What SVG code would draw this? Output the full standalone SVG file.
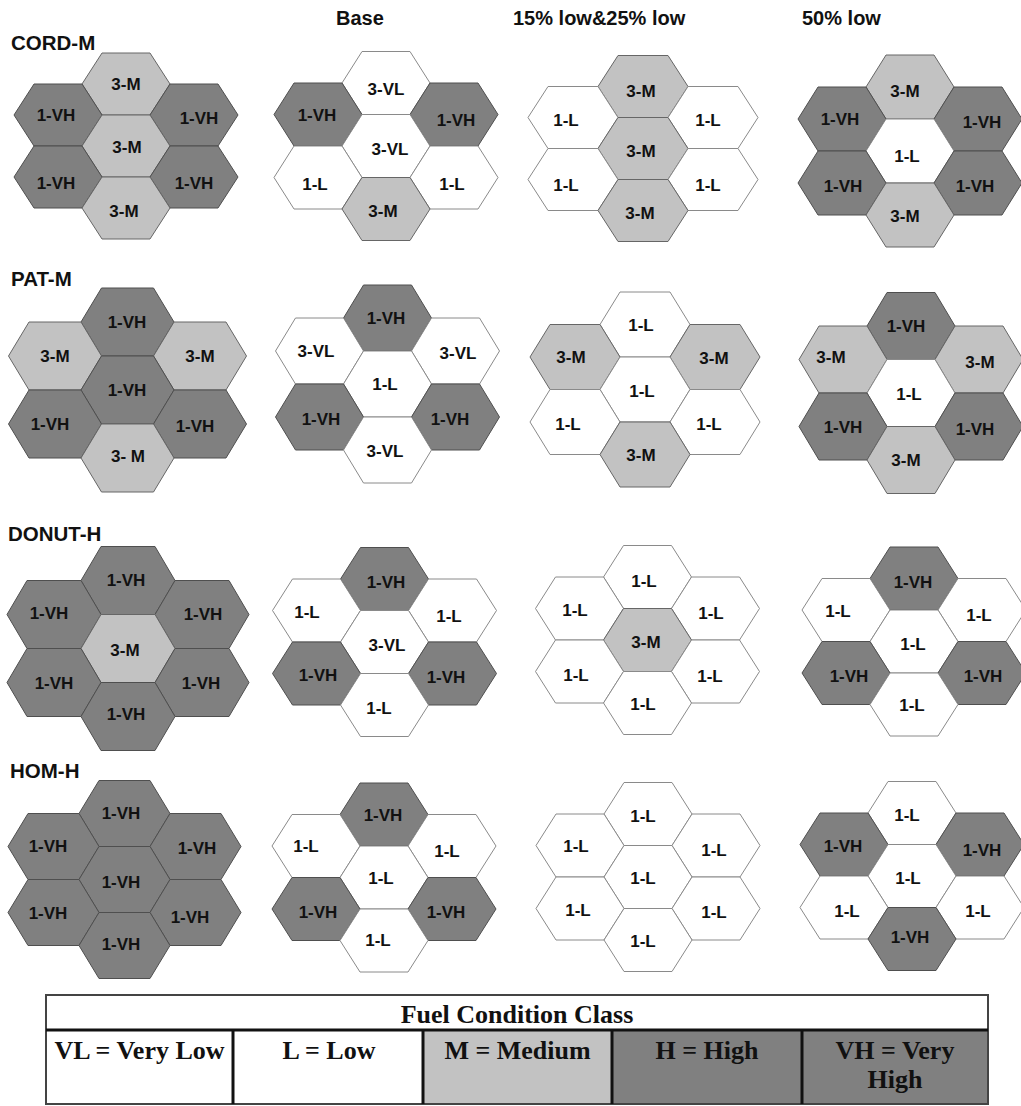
<svg xmlns="http://www.w3.org/2000/svg" xmlns:xlink="http://www.w3.org/1999/xlink" width="1021" height="1106" viewBox="0 0 1021 1106">
<style>
.vh{fill:#808080;stroke:#4f4f4f;stroke-width:1}
.m{fill:#c2c2c2;stroke:#666;stroke-width:1}
.l{fill:#fff;stroke:#8a8a8a;stroke-width:1}
.lbl{font-family:"Liberation Sans",Arial,sans-serif;font-weight:bold;font-size:17px;fill:#111;text-anchor:middle}
.hdr{font-family:"Liberation Sans",Arial,sans-serif;font-weight:bold;font-size:20px;fill:#111}
.ttl{font-family:"Liberation Sans",Arial,sans-serif;font-weight:bold;font-size:20.5px;fill:#111}
.leg{font-family:"Liberation Serif","Times New Roman",serif;font-weight:bold;font-size:26px;fill:#111;text-anchor:middle}
.div{stroke:#111;stroke-width:3}
</style>
<defs>
<polygon id="hA" points="-44,0 -24,-31 24,-31 44,0 24,31 -24,31"/>
<polygon id="hB" points="-44,0 -24,-31.5 24,-31.5 44,0 24,31.5 -24,31.5"/>
<polygon id="hC" points="-45,0 -25,-31 25,-31 45,0 25,31 -25,31"/>
<polygon id="hD" points="-44,0 -24,-32 24,-32 44,0 24,32 -24,32"/>
<polygon id="hE" points="-46.5,0 -26,-34 26,-34 46.5,0 26,34 -26,34"/>
<polygon id="hF" points="-44,0 -24,-33 24,-33 44,0 24,33 -24,33"/>
<polygon id="hG" points="-45,0 -25,-32.5 25,-32.5 45,0 25,32.5 -25,32.5"/>
<polygon id="hH" points="-44,0 -24,-33.5 24,-33.5 44,0 24,33.5 -24,33.5"/>
<polygon id="hI" points="-47,0 -27,-34 27,-34 47,0 27,34 -27,34"/>
<polygon id="hJ" points="-45.5,0 -25.5,-33 25.5,-33 45.5,0 25.5,33 -25.5,33"/>
</defs>

<g id="headers">
<text class="hdr" x="336" y="25">Base</text>
<text class="hdr" x="513" y="25">15% low&amp;25% low</text>
<text class="hdr" x="802" y="25">50% low</text>
</g>
<g id="row-titles">
<text class="ttl" x="11" y="50">CORD-M</text>
<text class="ttl" x="11" y="286">PAT-M</text>
<text class="ttl" x="8" y="541">DONUT-H</text>
<text class="ttl" x="10" y="778">HOM-H</text>
</g>

<g id="connectors"/>

<!-- Row 1 CORD-M -->
<g id="cord-c1">
<g id="cord-c1-top"><use href="#hA" x="126" y="84" class="m"/><text class="lbl" x="126" y="90">3-M</text></g>
<g id="cord-c1-ul"><use href="#hA" x="58" y="115" class="vh"/><text class="lbl" x="56" y="121">1-VH</text></g>
<g id="cord-c1-ur"><use href="#hA" x="194" y="115" class="vh"/><text class="lbl" x="199" y="124">1-VH</text></g>
<g id="cord-c1-c"><use href="#hA" x="126" y="146" class="m"/><text class="lbl" x="127" y="153">3-M</text></g>
<g id="cord-c1-ll"><use href="#hA" x="58" y="177" class="vh"/><text class="lbl" x="56" y="189">1-VH</text></g>
<g id="cord-c1-lr"><use href="#hA" x="194" y="177" class="vh"/><text class="lbl" x="194" y="189">1-VH</text></g>
<g id="cord-c1-b"><use href="#hA" x="126" y="208" class="m"/><text class="lbl" x="124" y="217">3-M</text></g>
</g>
<g id="cord-c2">
<g id="cord-c2-top"><use href="#hB" x="386" y="83" class="l"/><text class="lbl" x="386" y="95">3-VL</text></g>
<g id="cord-c2-ul"><use href="#hB" x="318" y="114.5" class="vh"/><text class="lbl" x="317" y="121">1-VH</text></g>
<g id="cord-c2-ur"><use href="#hB" x="454" y="114.5" class="vh"/><text class="lbl" x="456" y="126">1-VH</text></g>
<g id="cord-c2-c"><use href="#hB" x="386" y="146" class="l"/><text class="lbl" x="390" y="155">3-VL</text></g>
<g id="cord-c2-ll"><use href="#hB" x="318" y="177.5" class="l"/><text class="lbl" x="315" y="190">1-L</text></g>
<g id="cord-c2-lr"><use href="#hB" x="454" y="177.5" class="l"/><text class="lbl" x="452" y="190">1-L</text></g>
<g id="cord-c2-b"><use href="#hB" x="386" y="209" class="m"/><text class="lbl" x="383" y="217">3-M</text></g>
</g>
<g id="cord-c3">
<g id="cord-c3-top"><use href="#hC" x="643" y="86.5" class="m"/><text class="lbl" x="641" y="97">3-M</text></g>
<g id="cord-c3-ul"><use href="#hC" x="573" y="117.5" class="l"/><text class="lbl" x="566" y="126">1-L</text></g>
<g id="cord-c3-ur"><use href="#hC" x="713" y="117.5" class="l"/><text class="lbl" x="708" y="126">1-L</text></g>
<g id="cord-c3-c"><use href="#hC" x="643" y="148.5" class="m"/><text class="lbl" x="641" y="157">3-M</text></g>
<g id="cord-c3-ll"><use href="#hC" x="573" y="179.5" class="l"/><text class="lbl" x="566" y="191">1-L</text></g>
<g id="cord-c3-lr"><use href="#hC" x="713" y="179.5" class="l"/><text class="lbl" x="708" y="191">1-L</text></g>
<g id="cord-c3-b"><use href="#hC" x="643" y="210.5" class="m"/><text class="lbl" x="640" y="219">3-M</text></g>
</g>
<g id="cord-c4">
<g id="cord-c4-top"><use href="#hD" x="910" y="87" class="m"/><text class="lbl" x="905" y="97">3-M</text></g>
<g id="cord-c4-ul"><use href="#hD" x="842" y="119" class="vh"/><text class="lbl" x="840" y="125">1-VH</text></g>
<g id="cord-c4-ur"><use href="#hD" x="978" y="119" class="vh"/><text class="lbl" x="982" y="128">1-VH</text></g>
<g id="cord-c4-c"><use href="#hD" x="910" y="151" class="l"/><text class="lbl" x="907" y="162">1-L</text></g>
<g id="cord-c4-ll"><use href="#hD" x="842" y="183" class="vh"/><text class="lbl" x="843" y="192">1-VH</text></g>
<g id="cord-c4-lr"><use href="#hD" x="978" y="183" class="vh"/><text class="lbl" x="975" y="192">1-VH</text></g>
<g id="cord-c4-b"><use href="#hD" x="910" y="215" class="m"/><text class="lbl" x="905" y="222">3-M</text></g>
</g>

<!-- Row 2 PAT-M -->
<g id="pat-c1">
<g id="pat-c1-top"><use href="#hE" x="127.5" y="322" class="vh"/><text class="lbl" x="127" y="328">1-VH</text></g>
<g id="pat-c1-ul"><use href="#hE" x="55" y="356" class="m"/><text class="lbl" x="55" y="362">3-M</text></g>
<g id="pat-c1-ur"><use href="#hE" x="200" y="356" class="m"/><text class="lbl" x="200" y="362">3-M</text></g>
<g id="pat-c1-c"><use href="#hE" x="127.5" y="390" class="vh"/><text class="lbl" x="127" y="396">1-VH</text></g>
<g id="pat-c1-ll"><use href="#hE" x="55" y="424" class="vh"/><text class="lbl" x="50" y="430">1-VH</text></g>
<g id="pat-c1-lr"><use href="#hE" x="200" y="424" class="vh"/><text class="lbl" x="195" y="432">1-VH</text></g>
<g id="pat-c1-b"><use href="#hE" x="127.5" y="458" class="m"/><text class="lbl" x="128" y="462">3- M</text></g>
</g>
<g id="pat-c2">
<g id="pat-c2-top"><use href="#hF" x="387.5" y="318" class="vh"/><text class="lbl" x="386" y="324">1-VH</text></g>
<g id="pat-c2-ul"><use href="#hF" x="319.5" y="351" class="l"/><text class="lbl" x="316" y="357">3-VL</text></g>
<g id="pat-c2-ur"><use href="#hF" x="455.5" y="351" class="l"/><text class="lbl" x="458" y="359">3-VL</text></g>
<g id="pat-c2-c"><use href="#hF" x="387.5" y="384" class="l"/><text class="lbl" x="385" y="390">1-L</text></g>
<g id="pat-c2-ll"><use href="#hF" x="319.5" y="417" class="vh"/><text class="lbl" x="321" y="425">1-VH</text></g>
<g id="pat-c2-lr"><use href="#hF" x="455.5" y="417" class="vh"/><text class="lbl" x="450" y="425">1-VH</text></g>
<g id="pat-c2-b"><use href="#hF" x="387.5" y="450" class="l"/><text class="lbl" x="385" y="457">3-VL</text></g>
</g>
<g id="pat-c3">
<g id="pat-c3-top"><use href="#hG" x="645" y="324.5" class="l"/><text class="lbl" x="641" y="331">1-L</text></g>
<g id="pat-c3-ul"><use href="#hG" x="575" y="357" class="m"/><text class="lbl" x="571" y="363">3-M</text></g>
<g id="pat-c3-ur"><use href="#hG" x="715" y="357" class="m"/><text class="lbl" x="714" y="364">3-M</text></g>
<g id="pat-c3-c"><use href="#hG" x="645" y="389.5" class="l"/><text class="lbl" x="642" y="397">1-L</text></g>
<g id="pat-c3-ll"><use href="#hG" x="575" y="422" class="l"/><text class="lbl" x="568" y="430">1-L</text></g>
<g id="pat-c3-lr"><use href="#hG" x="715" y="422" class="l"/><text class="lbl" x="709" y="430">1-L</text></g>
<g id="pat-c3-b"><use href="#hG" x="645" y="454.5" class="m"/><text class="lbl" x="641" y="461">3-M</text></g>
</g>
<g id="pat-c4">
<g id="pat-c4-top"><use href="#hH" x="911" y="326" class="vh"/><text class="lbl" x="906" y="332">1-VH</text></g>
<g id="pat-c4-ul"><use href="#hH" x="843" y="359.5" class="m"/><text class="lbl" x="831" y="363">3-M</text></g>
<g id="pat-c4-ur"><use href="#hH" x="979" y="359.5" class="m"/><text class="lbl" x="980" y="368">3-M</text></g>
<g id="pat-c4-c"><use href="#hH" x="911" y="393" class="l"/><text class="lbl" x="909" y="400">1-L</text></g>
<g id="pat-c4-ll"><use href="#hH" x="843" y="426.5" class="vh"/><text class="lbl" x="843" y="433">1-VH</text></g>
<g id="pat-c4-lr"><use href="#hH" x="979" y="426.5" class="vh"/><text class="lbl" x="975" y="435">1-VH</text></g>
<g id="pat-c4-b"><use href="#hH" x="911" y="460" class="m"/><text class="lbl" x="906" y="466">3-M</text></g>
</g>

<!-- Row 3 DONUT-H -->
<g id="donut-c1">
<g id="donut-c1-top"><use href="#hI" x="128" y="580.5" class="vh"/><text class="lbl" x="126" y="586">1-VH</text></g>
<g id="donut-c1-ul"><use href="#hI" x="54" y="614.5" class="vh"/><text class="lbl" x="49" y="619">1-VH</text></g>
<g id="donut-c1-ur"><use href="#hI" x="202" y="614.5" class="vh"/><text class="lbl" x="203" y="620">1-VH</text></g>
<g id="donut-c1-c"><use href="#hI" x="128" y="648.5" class="m"/><text class="lbl" x="125" y="656">3-M</text></g>
<g id="donut-c1-ll"><use href="#hI" x="54" y="682.5" class="vh"/><text class="lbl" x="54" y="689">1-VH</text></g>
<g id="donut-c1-lr"><use href="#hI" x="202" y="682.5" class="vh"/><text class="lbl" x="201" y="689">1-VH</text></g>
<g id="donut-c1-b"><use href="#hI" x="128" y="716.5" class="vh"/><text class="lbl" x="126" y="720">1-VH</text></g>
</g>
<g id="donut-c2">
<g id="donut-c2-top"><use href="#hB" x="384.5" y="579" class="vh"/><text class="lbl" x="386" y="588">1-VH</text></g>
<g id="donut-c2-ul"><use href="#hB" x="316.5" y="610.5" class="l"/><text class="lbl" x="307" y="618">1-L</text></g>
<g id="donut-c2-ur"><use href="#hB" x="452.5" y="610.5" class="l"/><text class="lbl" x="449" y="622">1-L</text></g>
<g id="donut-c2-c"><use href="#hB" x="384.5" y="642" class="l"/><text class="lbl" x="387" y="651">3-VL</text></g>
<g id="donut-c2-ll"><use href="#hB" x="316.5" y="673.5" class="vh"/><text class="lbl" x="318" y="681">1-VH</text></g>
<g id="donut-c2-lr"><use href="#hB" x="452.5" y="673.5" class="vh"/><text class="lbl" x="446" y="683">1-VH</text></g>
<g id="donut-c2-b"><use href="#hB" x="384.5" y="705" class="l"/><text class="lbl" x="379" y="714">1-L</text></g>
</g>
<g id="donut-c3">
<g id="donut-c3-top"><use href="#hB" x="647.5" y="577" class="l"/><text class="lbl" x="644" y="587">1-L</text></g>
<g id="donut-c3-ul"><use href="#hB" x="579.5" y="608.5" class="l"/><text class="lbl" x="575" y="616">1-L</text></g>
<g id="donut-c3-ur"><use href="#hB" x="715.5" y="608.5" class="l"/><text class="lbl" x="711" y="619">1-L</text></g>
<g id="donut-c3-c"><use href="#hB" x="647.5" y="640" class="m"/><text class="lbl" x="646" y="648">3-M</text></g>
<g id="donut-c3-ll"><use href="#hB" x="579.5" y="671.5" class="l"/><text class="lbl" x="576" y="681">1-L</text></g>
<g id="donut-c3-lr"><use href="#hB" x="715.5" y="671.5" class="l"/><text class="lbl" x="710" y="682">1-L</text></g>
<g id="donut-c3-b"><use href="#hB" x="647.5" y="703" class="l"/><text class="lbl" x="643" y="710">1-L</text></g>
</g>
<g id="donut-c4">
<g id="donut-c4-top"><use href="#hB" x="914" y="578.5" class="vh"/><text class="lbl" x="913" y="588">1-VH</text></g>
<g id="donut-c4-ul"><use href="#hB" x="846" y="610" class="l"/><text class="lbl" x="838" y="617">1-L</text></g>
<g id="donut-c4-ur"><use href="#hB" x="982" y="610" class="l"/><text class="lbl" x="979" y="621">1-L</text></g>
<g id="donut-c4-c"><use href="#hB" x="914" y="641.5" class="l"/><text class="lbl" x="913" y="650">1-L</text></g>
<g id="donut-c4-ll"><use href="#hB" x="846" y="673" class="vh"/><text class="lbl" x="849" y="682">1-VH</text></g>
<g id="donut-c4-lr"><use href="#hB" x="982" y="673" class="vh"/><text class="lbl" x="983" y="682">1-VH</text></g>
<g id="donut-c4-b"><use href="#hB" x="914" y="704.5" class="l"/><text class="lbl" x="912" y="711">1-L</text></g>
</g>

<!-- Row 4 HOM-H -->
<g id="hom-c1">
<g id="hom-c1-top"><use href="#hJ" x="124.5" y="813.5" class="vh"/><text class="lbl" x="121" y="819">1-VH</text></g>
<g id="hom-c1-ul"><use href="#hJ" x="53.5" y="846.5" class="vh"/><text class="lbl" x="48" y="852">1-VH</text></g>
<g id="hom-c1-ur"><use href="#hJ" x="195.5" y="846.5" class="vh"/><text class="lbl" x="197" y="854">1-VH</text></g>
<g id="hom-c1-c"><use href="#hJ" x="124.5" y="879.5" class="vh"/><text class="lbl" x="121" y="888">1-VH</text></g>
<g id="hom-c1-ll"><use href="#hJ" x="53.5" y="912.5" class="vh"/><text class="lbl" x="48" y="919">1-VH</text></g>
<g id="hom-c1-lr"><use href="#hJ" x="195.5" y="912.5" class="vh"/><text class="lbl" x="190" y="923">1-VH</text></g>
<g id="hom-c1-b"><use href="#hJ" x="124.5" y="945.5" class="vh"/><text class="lbl" x="121" y="950">1-VH</text></g>
</g>
<g id="hom-c2">
<g id="hom-c2-top"><use href="#hB" x="384" y="814.5" class="vh"/><text class="lbl" x="383" y="821">1-VH</text></g>
<g id="hom-c2-ul"><use href="#hB" x="316" y="846" class="l"/><text class="lbl" x="306" y="852">1-L</text></g>
<g id="hom-c2-ur"><use href="#hB" x="452" y="846" class="l"/><text class="lbl" x="447" y="857">1-L</text></g>
<g id="hom-c2-c"><use href="#hB" x="384" y="877.5" class="l"/><text class="lbl" x="381" y="884">1-L</text></g>
<g id="hom-c2-ll"><use href="#hB" x="316" y="909" class="vh"/><text class="lbl" x="318" y="918">1-VH</text></g>
<g id="hom-c2-lr"><use href="#hB" x="452" y="909" class="vh"/><text class="lbl" x="446" y="918">1-VH</text></g>
<g id="hom-c2-b"><use href="#hB" x="384" y="940.5" class="l"/><text class="lbl" x="378" y="946">1-L</text></g>
</g>
<g id="hom-c3">
<g id="hom-c3-top"><use href="#hB" x="648" y="814" class="l"/><text class="lbl" x="643" y="822">1-L</text></g>
<g id="hom-c3-ul"><use href="#hB" x="580" y="845.5" class="l"/><text class="lbl" x="576" y="852">1-L</text></g>
<g id="hom-c3-ur"><use href="#hB" x="716" y="845.5" class="l"/><text class="lbl" x="714" y="856">1-L</text></g>
<g id="hom-c3-c"><use href="#hB" x="648" y="877" class="l"/><text class="lbl" x="643" y="884">1-L</text></g>
<g id="hom-c3-ll"><use href="#hB" x="580" y="908.5" class="l"/><text class="lbl" x="578" y="916">1-L</text></g>
<g id="hom-c3-lr"><use href="#hB" x="716" y="908.5" class="l"/><text class="lbl" x="714" y="918">1-L</text></g>
<g id="hom-c3-b"><use href="#hB" x="648" y="940" class="l"/><text class="lbl" x="643" y="947">1-L</text></g>
</g>
<g id="hom-c4">
<g id="hom-c4-top"><use href="#hB" x="912" y="813" class="l"/><text class="lbl" x="907" y="821">1-L</text></g>
<g id="hom-c4-ul"><use href="#hB" x="844" y="844.5" class="vh"/><text class="lbl" x="843" y="852">1-VH</text></g>
<g id="hom-c4-ur"><use href="#hB" x="980" y="844.5" class="vh"/><text class="lbl" x="982" y="856">1-VH</text></g>
<g id="hom-c4-c"><use href="#hB" x="912" y="876" class="l"/><text class="lbl" x="908" y="884">1-L</text></g>
<g id="hom-c4-ll"><use href="#hB" x="844" y="907.5" class="l"/><text class="lbl" x="847" y="917">1-L</text></g>
<g id="hom-c4-lr"><use href="#hB" x="980" y="907.5" class="l"/><text class="lbl" x="978" y="917">1-L</text></g>
<g id="hom-c4-b"><use href="#hB" x="912" y="939" class="vh"/><text class="lbl" x="910" y="943">1-VH</text></g>
</g>

<!-- Legend -->
<g id="legend">
<rect x="46" y="995" width="942" height="109" fill="#fff" stroke="#444" stroke-width="2"/>
<rect x="423" y="1030" width="189" height="74" fill="#c2c2c2"/>
<rect x="612" y="1030" width="376" height="74" fill="#808080"/>
<rect x="46" y="995" width="942" height="109" fill="none" stroke="#444" stroke-width="2"/>
<line class="div" x1="46" y1="1030" x2="988" y2="1030"/>
<line class="div" x1="233" y1="1030" x2="233" y2="1104"/>
<line class="div" x1="423" y1="1030" x2="423" y2="1104"/>
<line class="div" x1="612" y1="1030" x2="612" y2="1104"/>
<line class="div" x1="802" y1="1030" x2="802" y2="1104"/>
<text class="leg" x="517" y="1023">Fuel Condition Class</text>
<text class="leg" x="139.5" y="1059">VL = Very Low</text>
<text class="leg" x="329" y="1059">L = Low</text>
<text class="leg" x="517.5" y="1059">M = Medium</text>
<text class="leg" x="707" y="1059">H = High</text>
<text class="leg" x="895" y="1059">VH = Very</text>
<text class="leg" x="895" y="1088">High</text>
</g>
</svg>
